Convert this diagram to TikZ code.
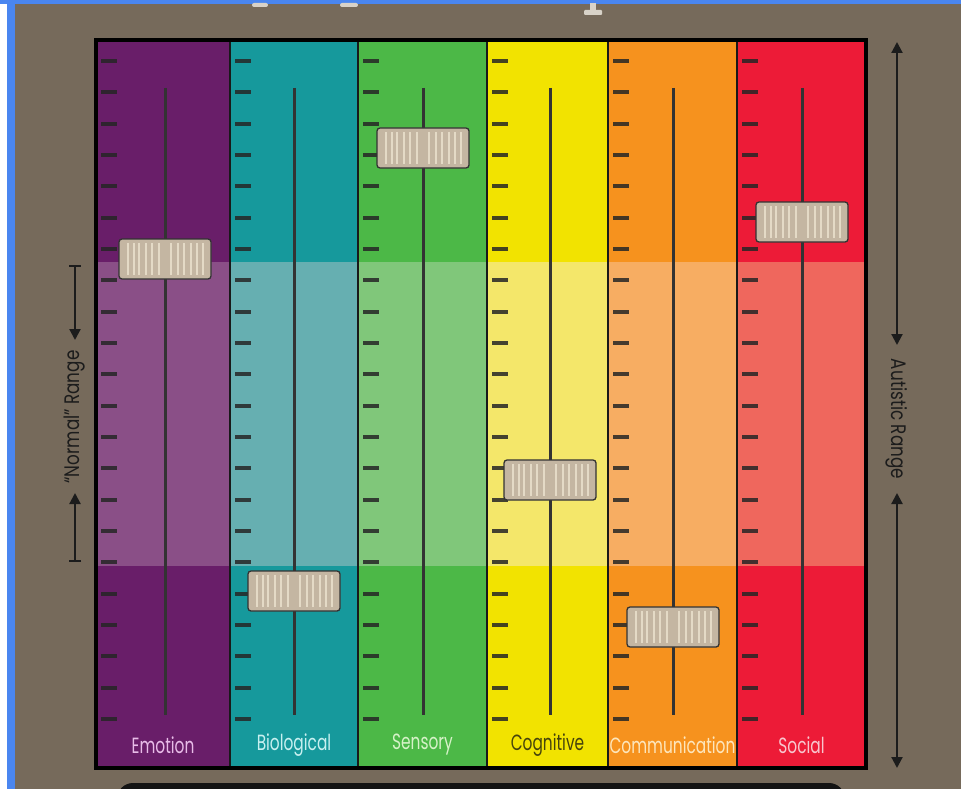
\documentclass[tikz,border=0pt]{standalone}
\usepackage{fontspec}
\setmainfont{Poppins}
\usetikzlibrary{arrows.meta}
\definecolor{bg}{HTML}{766A5B}
\definecolor{bluebar}{HTML}{4A86F0}
\definecolor{emoB}{HTML}{691E69}\definecolor{emoL}{HTML}{8A4F87}\definecolor{emoT}{HTML}{E8BCE8}
\definecolor{bioB}{HTML}{16999C}\definecolor{bioL}{HTML}{66AFB1}\definecolor{bioT}{HTML}{C8F0F0}
\definecolor{senB}{HTML}{4CB847}\definecolor{senL}{HTML}{80C77A}\definecolor{senT}{HTML}{D6F2C8}
\definecolor{cogB}{HTML}{F2E300}\definecolor{cogL}{HTML}{F4E76A}\definecolor{cogT}{HTML}{46440C}
\definecolor{comB}{HTML}{F6921E}\definecolor{comL}{HTML}{F7AD62}\definecolor{comT}{HTML}{FDE6BC}
\definecolor{socB}{HTML}{ED1B37}\definecolor{socL}{HTML}{EF675D}\definecolor{socT}{HTML}{F8C6CE}
\definecolor{knobfill}{HTML}{C4B6A2}
\definecolor{knobstripe}{HTML}{E4DAC6}
\definecolor{ink}{HTML}{1C1C1C}
\definecolor{frag}{HTML}{D8D2C8}
\begin{document}
\begin{tikzpicture}[x=1pt,y=-1pt,
  tickmark/.style={draw=black!85, line width=4pt, opacity=0.85},
  rail/.style={draw=black!80, line width=3pt},
  knob/.style={draw=black!80, fill=knobfill, line width=1.3pt, rounded corners=3pt,
    minimum width=92pt, minimum height=40pt, inner sep=0pt},
  stripe/.style={draw=knobstripe, line width=1.1pt},
  divider/.style={draw=black!90, line width=2pt},
  border/.style={draw=black, line width=3.5pt},
  lbl/.style={font=\fontsize{22}{22}\selectfont, inner sep=0pt},
  ann/.style={font=\fontsize{21}{21}\selectfont, text=ink, inner sep=0pt},
  rangearrow/.style={draw=ink, line width=2.2pt},
]
\useasboundingbox (0,0) rectangle (961,789);
\clip (0,0) rectangle (961,789);
\fill[bg] (0,0) rectangle (961,789);
\fill[white] (0,0) rectangle (7,789);
\fill[bluebar] (7,0) rectangle (15,789);
\fill[bluebar] (0,0) rectangle (961,4);
% fragments of a cut-off title
\fill[frag, rounded corners=2pt] (252,3) rectangle (268,7);
\fill[frag, rounded corners=2pt] (340,3) rectangle (358,7);
\fill[frag] (590,3) rectangle (596,12);
\fill[frag, rounded corners=1pt] (584,10) rectangle (602,15);
% black bar at the bottom
\fill[black!92, rounded corners=16pt] (117,830) rectangle (845,783);

\foreach \l/\r/\rx/\base/\light/\tc/\lab/\ky/\nm in {
  96/230/165/emoB/emoL/emoT/Emotion/259/emo,
  230/358/294/bioB/bioL/bioT/Biological/591/bio,
  358/487/423/senB/senL/senT/Sensory/148/sen,
  487/608/550/cogB/cogL/cogT/Cognitive/480/cog,
  608/737/673/comB/comL/comT/Communication/627/com,
  737/866/802/socB/socL/socT/Social/222/soc}
{
  \fill[\base] (\l,40) rectangle (\r,768);
  \fill[\light] (\l,262) rectangle (\r,566);
  \foreach \i in {0,...,21}
    \draw[tickmark] (\l+5,61+31.33*\i) -- ++(16,0);
  \draw[rail] (\rx,88) -- (\rx,715);
  \node[knob] (k\nm) at (\rx,\ky) {};
  \foreach \s in {9,15,20,27,33,40,52,59,65,72,78,84}
    \draw[stripe] (\rx-46+\s,\ky-16) -- (\rx-46+\s,\ky+16);
  \pgfmathsetmacro\cx{(\l+\r)/2}
  \node[lbl, text=\tc] (l\nm) at (\cx,745) {\scalebox{0.7}[1]{\lab}};
}
\foreach \x in {230,358,487,608,737}
  \draw[divider] (\x,40) -- (\x,768);
\draw[border] (96,40) rectangle (866,768);

% "Normal" range annotation
\coordinate (nrTop) at (75,265);
\coordinate (nrA) at (75,340);
\coordinate (nrB) at (75,493);
\coordinate (nrBot) at (75,562);
\node[ann, rotate=90] (nrText) at (75,417) {\scalebox{0.8}[1]{“Normal” Range}};
\draw[rangearrow, {Bar[width=12pt]}-{Triangle[length=11pt,width=11pt]}] (nrTop) -- (nrA);
\draw[rangearrow, {Triangle[length=11pt,width=11pt]}-{Bar[width=12pt]}] (nrB) -- (nrBot);

% Autistic range annotation
\coordinate (arTop) at (897,42);
\coordinate (arA) at (897,345);
\coordinate (arB) at (897,493);
\coordinate (arBot) at (897,768);
\node[ann, rotate=-90] (arText) at (897,419) {\scalebox{0.8}[1]{Autistic Range}};
\draw[rangearrow, {Triangle[length=11pt,width=11pt]}-{Triangle[length=11pt,width=11pt]}] (arTop) -- (arA);
\draw[rangearrow, {Triangle[length=11pt,width=11pt]}-{Triangle[length=11pt,width=11pt]}] (arB) -- (arBot);
\end{tikzpicture}
\end{document}
